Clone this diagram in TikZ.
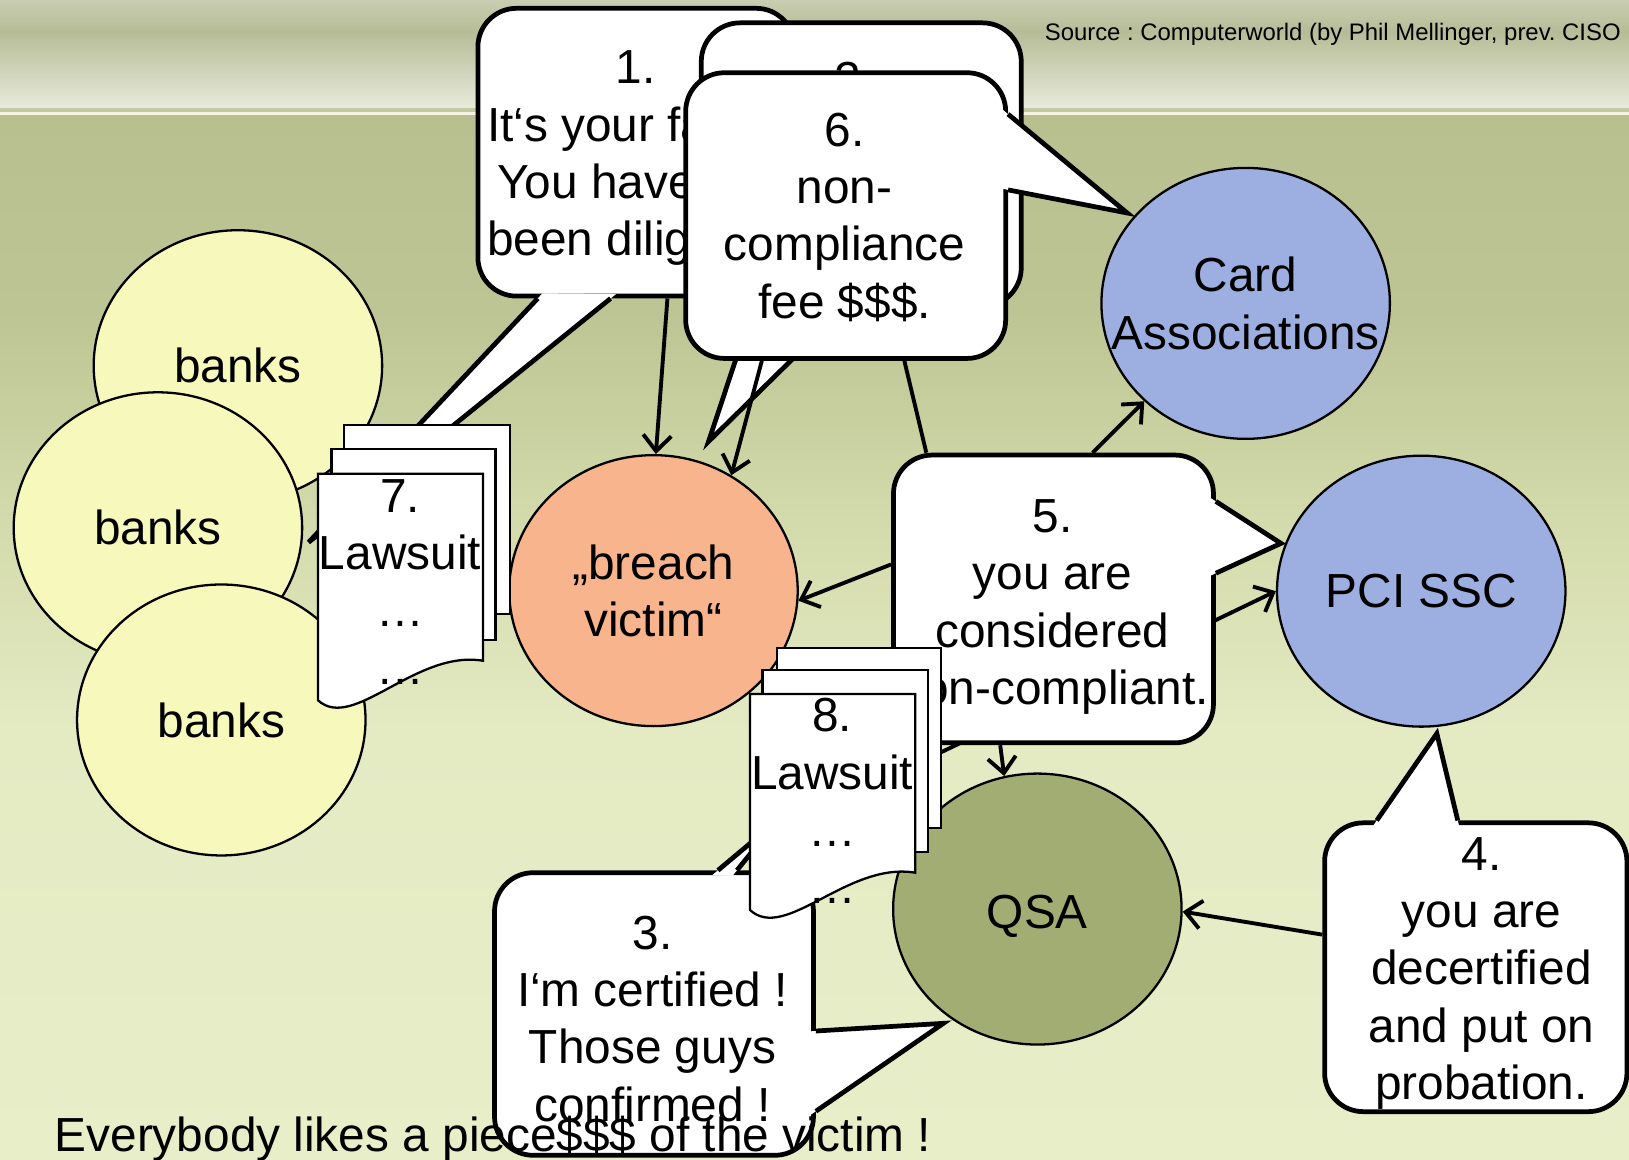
\documentclass[tikz,border=0pt]{standalone}
\usepackage{fontspec}
\setmainfont{Liberation Sans}
\usetikzlibrary{shapes.geometric,arrows.meta,calc,fit}

\definecolor{bankyellow}{HTML}{F7F8BC}
\definecolor{victimorange}{HTML}{F8B48C}
\definecolor{assocblue}{HTML}{9DAFE0}
\definecolor{qsagreen}{HTML}{A2AD74}
\definecolor{headtop}{HTML}{C9CDB1}
\definecolor{headmid}{HTML}{B6BC96}
\definecolor{headlow}{HTML}{E8EADB}
\definecolor{stripgreen}{HTML}{C5C9A2}
\definecolor{stripline}{HTML}{F4F2E2}
\definecolor{bgone}{HTML}{B8C08F}
\definecolor{bgtwo}{HTML}{BDC594}
\definecolor{bgthree}{HTML}{D3DAAB}
\definecolor{bgfour}{HTML}{E4EAC2}
\definecolor{bgfive}{HTML}{E8EEC8}

% tail of a speech bubble: base point, base point, tip
\newcommand{\bubbletail}[3]{%
  \fill[white] ($(#1)!-2pt!(#3)$) -- (#3) -- ($(#2)!-2pt!(#3)$) -- cycle;
  \draw[bubble edge] (#1) -- (#3) -- (#2);}

\begin{document}
\frenchspacing
\begin{tikzpicture}[x=0.010389cm, y=-0.010389cm,
  every node/.style={font=\fontsize{13.6}{16.3}\selectfont},
  party/.style={ellipse, draw, line width=0.65pt, minimum width=2.885cm, minimum height=2.71cm, inner sep=0pt, align=center},
  bubble/.style={draw, fill=white, line width=1.35pt, rounded corners=11pt, inner sep=0pt},
  bubble edge/.style={line width=1.35pt},
  sheet/.style={draw, fill=white, line width=0.65pt},
  words/.style={align=center, text depth=0pt, inner sep=0pt},
  conn/.style={line width=1.1pt, -{Straight Barb[length=4.5pt,width=8pt]}},
  link/.style={line width=1.1pt}]

% Draw background
\useasboundingbox (0,0) rectangle (1568,1116);
\shade[top color=headtop, bottom color=headmid] (0,0) rectangle (1568,31);
\shade[top color=headmid, bottom color=headlow] (0,30) rectangle (1568,104);
\fill[stripgreen] (0,104) rectangle (1568,108);
\fill[stripline] (0,108) rectangle (1568,111);
\shade[top color=bgone, bottom color=bgtwo] (0,111) rectangle (1568,301);
\shade[top color=bgtwo, bottom color=bgthree] (0,300) rectangle (1568,501);
\shade[top color=bgthree, bottom color=bgfour] (0,500) rectangle (1568,701);
\shade[top color=bgfour, bottom color=bgfive] (0,700) rectangle (1568,1116);
\node[font=\fontsize{6.8}{8}\selectfont, anchor=base west, inner sep=0pt] (src) at (1005,39) {Source : Computerworld (by Phil Mellinger, prev. CISO};

% Draw banks
\node[party, fill=bankyellow] (bank1) at (229,352) {banks};
\node[party, fill=bankyellow] (bank2) at (152,508) {banks};
\node[party, fill=bankyellow] (bank3) at (213,693) {banks};

% Bubbles 1, 2 and 6
\node[bubble, fit={(460,8) (765,285)}] (say1) {};
\coordinate (t1) at (297,522);
\bubbletail{say1.-124}{say1.-100}{t1}
\node[words] (say1text) at (612,147.5) {1.\\It‘s your fault !\\You have not\\been diligent !};

\node[bubble, fit={(675,22) (983,295)}] (say2) {};
\coordinate (t2) at (682,425);
\bubbletail{say2.-127}{say2.-97}{t2}
\node[words] (say2text) at (822,76) {2.};

\node[bubble, fit={(660,70) (968,345)}] (say6) {};
\coordinate (t6) at (1085,205);
\bubbletail{say6.32}{say6.9}{t6}
\node[words] (say6text) at (813,207.5) {6.\\non-\\compliance\\fee \$\$\$.};

% Draw parties
\node[party, fill=victimorange] (victim) at (629,568.5) {„breach\\victim“};
\node[party, fill=assocblue] (card) at (1199,292) {\makebox[0pt]{Card}\\\makebox[0pt]{Associations}};
\node[party, fill=assocblue] (pci) at (1368,569) {PCI SSC};
\node[party, fill=qsagreen, text height=11pt, text depth=0pt] (qsa) at (998.5,875) {QSA};

% Arrows to the victim
\draw[conn] (say1.-78) -- (victim.89);
\draw[conn] (say6.-120) -- (victim.56);
\coordinate (suit8) at (800,775);
\draw[conn] (suit8) -- (pci.180);

% Bubble 5
\node[bubble, fit={(860,438) (1168,715)}] (say5) {};
\coordinate (t5) at (1233,523);
\bubbletail{say5.31}{say5.9}{t5}
\node[words] (say5text) at (1013,579.5) {5.\\you are\\considered\\non-compliant.};
\draw[link] (say6.-68) -- (say5.131);
\draw[conn] (say5.75) -- (card.224);
\draw[conn] (say5.168) -- (victim.-4);
\draw[conn] (say5.-110) -- (qsa.104);

% Lawsuit 7
\draw[sheet] (331,409) rectangle (491,591);
\draw[sheet] (319,432) rectangle (477,616);
\draw[sheet] (306,456) -- (465,456) -- (465,636) .. controls (400,625) and (340,705) .. (306,674) -- cycle;
\node[words] (law7) at (385,560) {7.\\Lawsuit\\…\\…};

% Bubble 3
\node[bubble, fit={(476,840) (783,1112)}] (say3) {};
\coordinate (t3) at (908,985);
\bubbletail{say3.-6}{say3.-31}{t3}
\coordinate (t3b) at (748,790);
\bubbletail{say3.66}{say3.60}{t3b}
\node[words] (say3text) at (628,980.5) {3.\\I‘m certified !\\Those guys\\confirmed !};

% Lawsuit 8
\draw[sheet] (748,624) rectangle (906,797);
\draw[sheet] (734,645) rectangle (893,820);
\draw[sheet] (722,668) -- (881,668) -- (881,840) .. controls (816,829) and (756,907) .. (722,876) -- cycle;
\node[words] (law8) at (801,771) {8.\\Lawsuit\\…\\…};

% Bubble 4
\node[bubble, fit={(1275,792) (1566,1070)}] (say4) {};
\coordinate (t4) at (1383,706);
\bubbletail{say4.124}{say4.97}{t4}
\node[words] (say4text) at (1426,932) {4.\\you are\\decertified\\and put on\\probation.};
\draw[conn] (say4.168) -- (qsa.-1);

% Caption
\node[anchor=base west, inner sep=0pt] (motto) at (52,1108) {Everybody likes a piece\$\$\$ of the victim !};
\end{tikzpicture}
\end{document}
